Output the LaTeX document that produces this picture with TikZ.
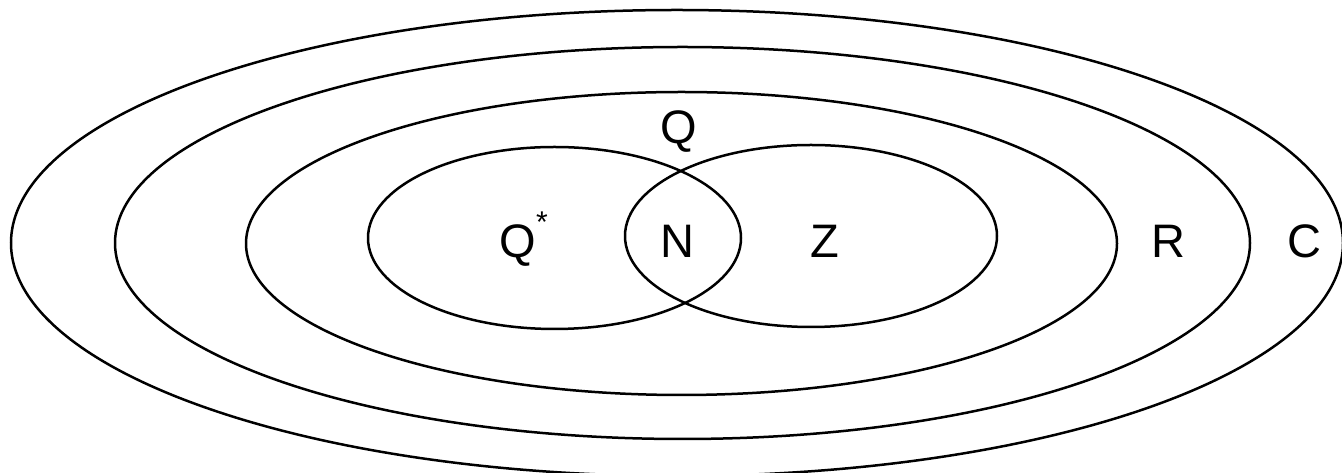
\documentclass[tikz,border=0pt]{standalone}
\usepackage{fontspec}
\setmainfont{Liberation Sans}
\begin{document}
\begin{tikzpicture}[x=1pt,y=1pt,
  setline/.style={draw=black, line width=2.5pt},
  lbl/.style={font=\fontsize{47}{47}\selectfont, inner sep=0pt, anchor=base}]
\useasboundingbox (0,0) rectangle (1342,473);
% C
\draw[setline] (677,230) ellipse [x radius=666, y radius=233];
% R
\draw[setline] (682.5,230) ellipse [x radius=567.5, y radius=196];
% Q
\draw[setline] (681.5,229.5) ellipse [x radius=435.5, y radius=151.5];
% Q*
\draw[setline] (554.5,235) ellipse [x radius=186.5, y radius=91];
% Z
\draw[setline] (811,237) ellipse [x radius=186, y radius=91];
% labels
\node[lbl] (lq) at (679,329) {Q};
\node[lbl] (lqs) at (518,215) {Q};
\node[inner sep=0pt, font=\fontsize{30}{30}\selectfont] (ast) at (542,251) {*};
\node[lbl] (ln) at (677,215) {N};
\node[lbl] (lz) at (825,215) {Z};
\node[lbl] (lr) at (1168,215) {R};
\node[lbl] (lc) at (1304,215) {C};
\end{tikzpicture}
\end{document}
